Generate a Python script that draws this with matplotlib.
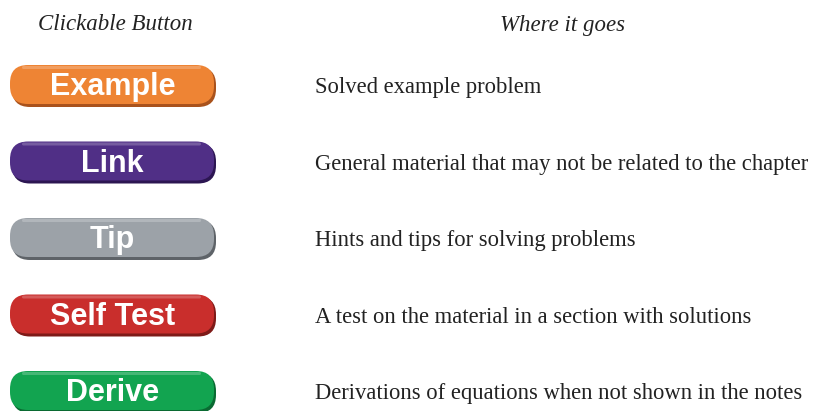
import matplotlib
matplotlib.use("Agg")
import matplotlib.pyplot as plt
from matplotlib.patches import FancyBboxPatch

# table content
buttons = ["Example", "Link", "Tip", "Self Test", "Derive"]
colors = ["#EE8434", "#502F86", "#9CA2A8", "#C92E2C", "#12A450"]
shadows = ["#A9521C", "#2C1652", "#5E6368", "#7E1A18", "#0A6A32"]
descriptions = [
    "Solved example problem",
    "General material that may not be related to the chapter",
    "Hints and tips for solving problems",
    "A test on the material in a section with solutions",
    "Derivations of equations when not shown in the notes",
]
headers = ["Clickable Button", "Where it goes"]

W, H = 814, 411


def main():
    fig = plt.figure(figsize=(W / 100, H / 100), dpi=100)
    ax = fig.add_axes([0, 0, 1, 1])
    ax.set_xlim(0, W)
    ax.set_ylim(H, 0)
    ax.axis("off")

    serif = "Liberation Serif"
    ax.text(115, 25, headers[0], ha="center", va="center", fontsize=16.5,
            style="italic", family=serif, color="#222222")
    ax.text(563, 25, headers[1], ha="center", va="center", fontsize=16.5,
            style="italic", family=serif, color="#222222")

    # button geometry
    x0, bw, bh = 10, 207, 43
    first, step = 86.5, 76.5
    for i, (name, col, sh, desc) in enumerate(zip(buttons, colors, shadows, descriptions)):
        cy = first + i * step
        # drop shadow
        ax.add_patch(FancyBboxPatch((x0 + 2, cy - bh / 2 + 2), bw - 3, bh - 3,
                                    boxstyle="round,pad=0,rounding_size=18",
                                    fc=sh, ec="none", zorder=1))
        # body
        ax.add_patch(FancyBboxPatch((x0, cy - bh / 2), bw - 3, bh - 4,
                                    boxstyle="round,pad=0,rounding_size=18",
                                    fc=col, ec="none", zorder=2))
        # top highlight
        ax.add_patch(FancyBboxPatch((x0 + 12, cy - bh / 2 + 1), bw - 28, 3,
                                    boxstyle="round,pad=0,rounding_size=1.5",
                                    fc="white", alpha=0.22, ec="none", zorder=3))
        ax.text(x0 + bw / 2 - 1, cy + 0.5, name, ha="center", va="center",
                fontsize=22, fontweight="bold", family="Liberation Sans",
                color="white", zorder=4)
        ax.text(315, cy + 1, desc, ha="left", va="center", fontsize=16.3,
                family=serif, color="#222222")

    fig.savefig("out.png", dpi=100)


if __name__ == "__main__":
    main()
